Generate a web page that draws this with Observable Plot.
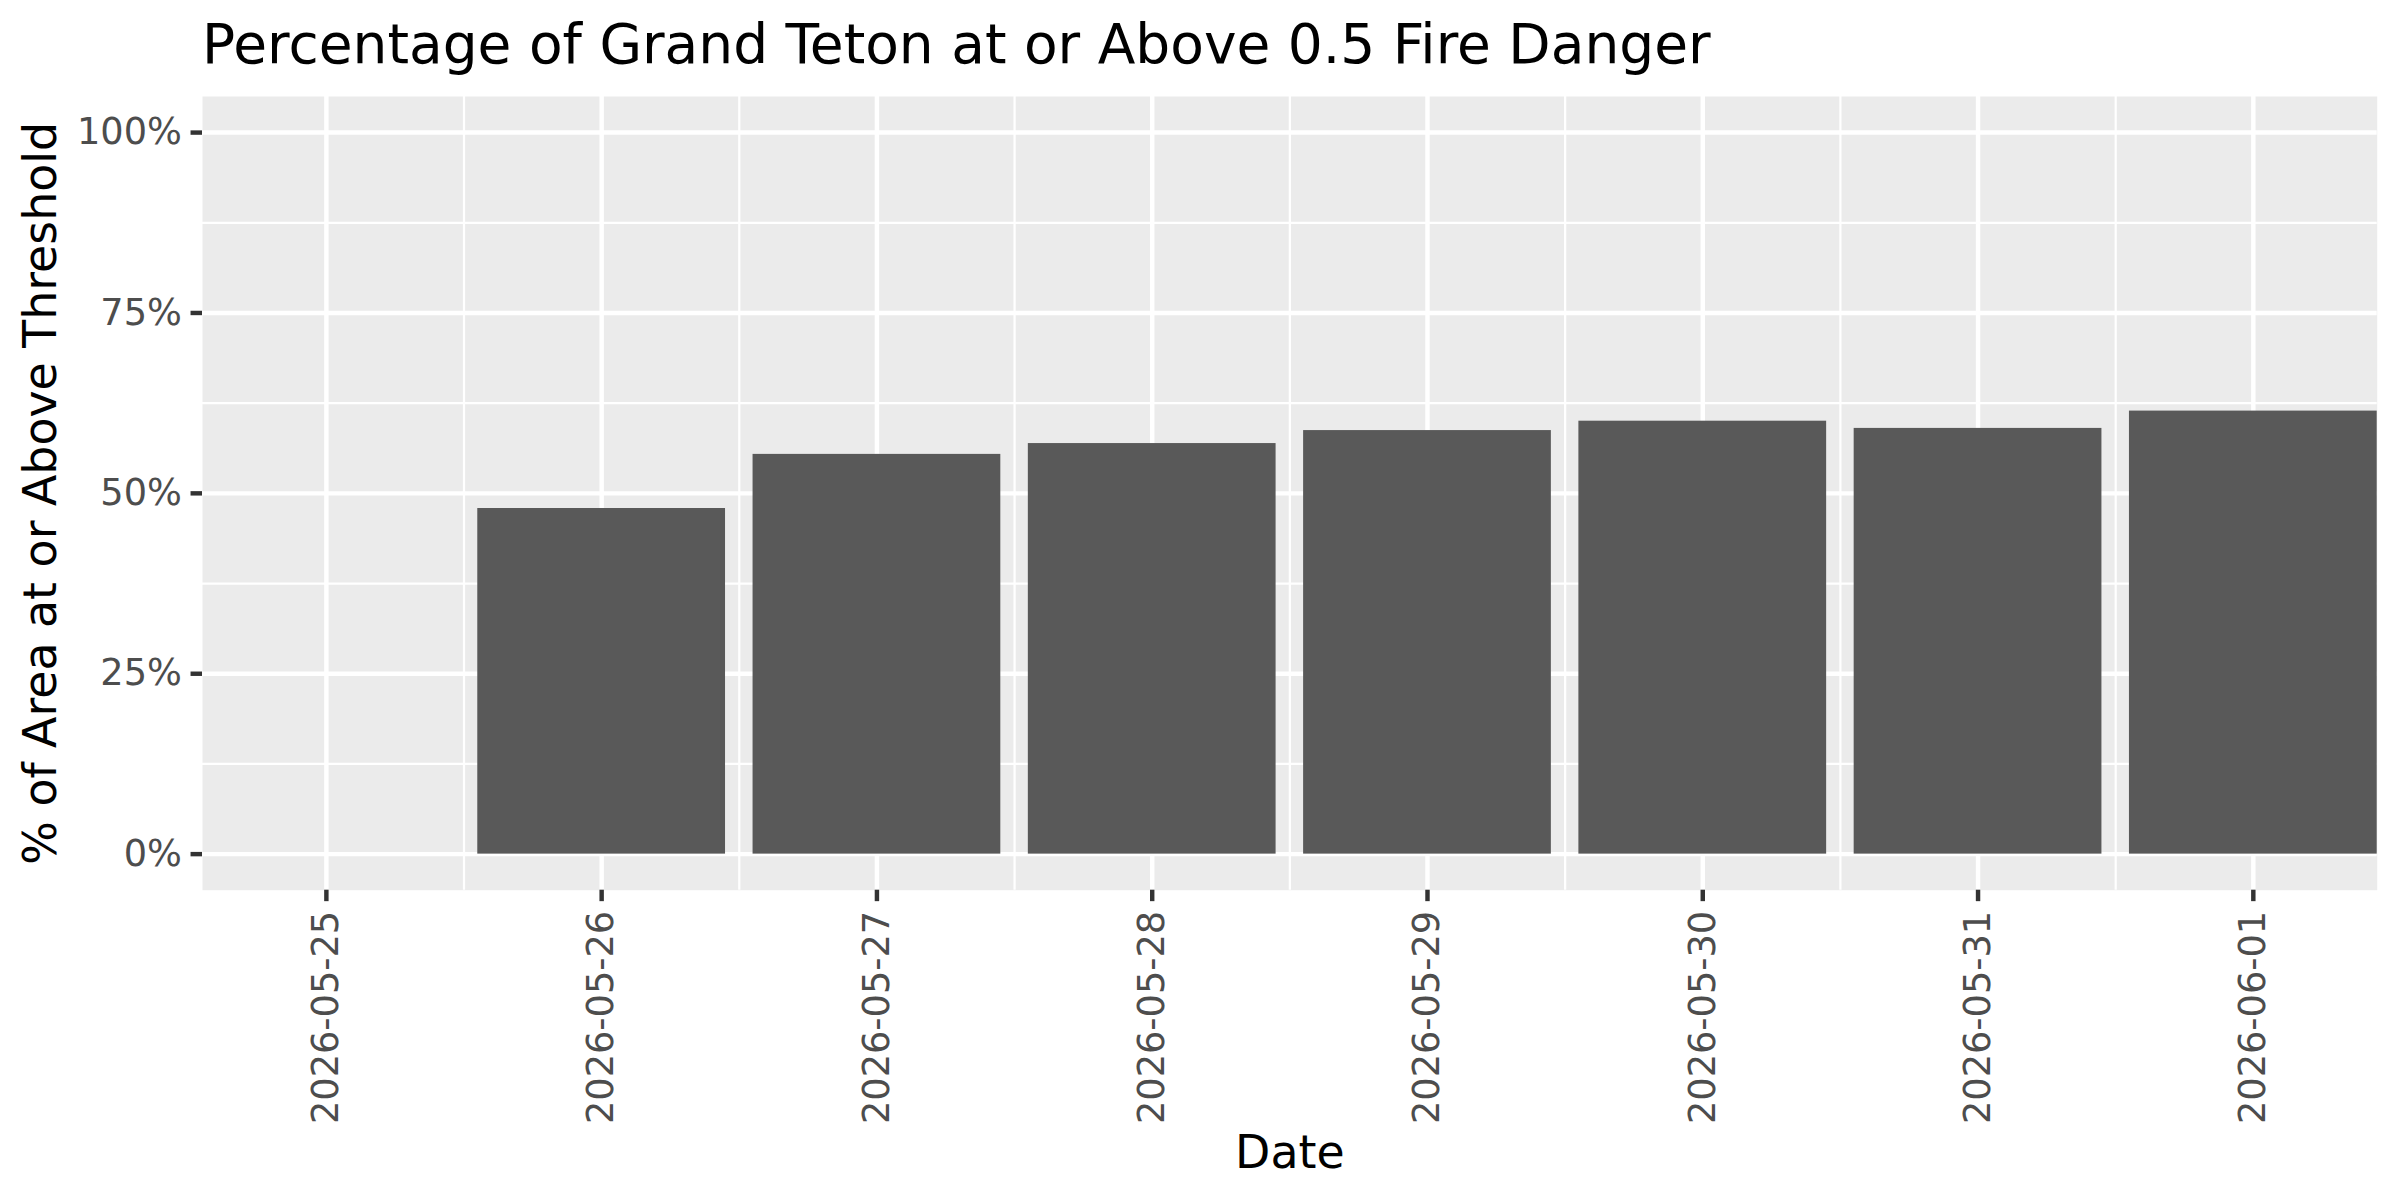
<!DOCTYPE html>
<html>
<head>
<meta charset="utf-8">
<script src="https://cdn.jsdelivr.net/npm/d3@7"></script>
<script src="https://cdn.jsdelivr.net/npm/@observablehq/plot@0.6"></script>
<style>
  html, body { margin: 0; padding: 0; background: #ffffff; }
  #wrap { width: 2400px; height: 1200px; font-family: "DejaVu Sans", sans-serif; }
  #title { box-sizing: border-box; height: 80px; padding-top: 8.5px; padding-left: 202px;
           font-size: 55px; line-height: 71.5px; color: #000000; white-space: nowrap; }
  svg { display: block; overflow: visible; }
</style>
</head>
<body>
<div id="wrap">
  <div id="title">Percentage of Grand Teton at or Above 0.5 Fire Danger</div>
  <div id="chart"></div>
</div>
<script>
// ---- data ----
const dates = ["2026-05-25", "2026-05-26", "2026-05-27", "2026-05-28",
               "2026-05-29", "2026-05-30", "2026-05-31", "2026-06-01"];
const pctAbove = [0, 47.9, 55.4, 56.9, 58.7, 60.0, 59.0, 61.4];
const yTicks = [0, 25, 50, 75, 100];
const yMinor = [12.5, 37.5, 62.5, 87.5];
const titleText = "Percentage of Grand Teton at or Above 0.5 Fire Danger";
const xTitle = "Date";
const yTitle = "% of Area at or Above Threshold";

const DAY = 24 * 3600 * 1000;
const parsed = dates.map(d => new Date(d + "T00:00:00Z"));
const rows = parsed.map((d, i) => ({date: d, value: pctAbove[i]}));
const minorX = parsed.slice(0, -1).map(d => new Date(+d + DAY / 2));

const MAJ = 4.44, MIN = 2.22;
const fmt = d3.utcFormat("%Y-%m-%d");

const plot = Plot.plot({
  width: 2400,
  height: 1120,
  marginLeft: 202,
  marginRight: 23.3,
  marginTop: 16,
  marginBottom: 310.3,
  style: {fontFamily: "DejaVu Sans, sans-serif", fontSize: "36.7px", background: "#ffffff", overflow: "visible"},
  x: {type: "utc", domain: [new Date(+parsed[0] - 0.45 * DAY), new Date(+parsed[parsed.length - 1] + 0.45 * DAY)]},
  y: {domain: [-5, 105]},
  marks: [
    Plot.frame({fill: "#EBEBEB", stroke: null}),
    Plot.ruleX(minorX, {stroke: "#ffffff", strokeWidth: MIN}),
    Plot.ruleY(yMinor, {stroke: "#ffffff", strokeWidth: MIN}),
    Plot.ruleX(parsed, {stroke: "#ffffff", strokeWidth: MAJ}),
    Plot.ruleY(yTicks, {stroke: "#ffffff", strokeWidth: MAJ}),
    Plot.rectY(rows, {
      x1: d => new Date(+d.date - 0.45 * DAY),
      x2: d => new Date(+d.date + 0.45 * DAY),
      y1: 0,
      y2: "value",
      fill: "#595959"
    }),
    Plot.axisY(yTicks, {
      tickSize: 11.46, tickPadding: 9.17, stroke: "#333333", strokeWidth: MAJ,
      fill: "#4D4D4D", fontSize: 36.7, tickFormat: d => d + "%", label: null
    }),
    Plot.axisX(parsed, {
      tickSize: 11.46, tickPadding: 9.17, tickRotate: -90, stroke: "#333333", strokeWidth: MAJ,
      fill: "#4D4D4D", fontSize: 36.7, tickFormat: fmt, label: null
    }),
    Plot.text([xTitle], {
      text: d => d, frameAnchor: "bottom", dy: 278, lineAnchor: "bottom",
      fontSize: 45.8, fill: "#000000", textAnchor: "middle"
    }),
    Plot.text([yTitle], {
      text: d => d, frameAnchor: "left", dx: -147, rotate: -90, lineAnchor: "bottom",
      fontSize: 45.8, fill: "#000000", textAnchor: "middle"
    })
  ]
});
document.getElementById("chart").appendChild(plot);
</script>
</body>
</html>
